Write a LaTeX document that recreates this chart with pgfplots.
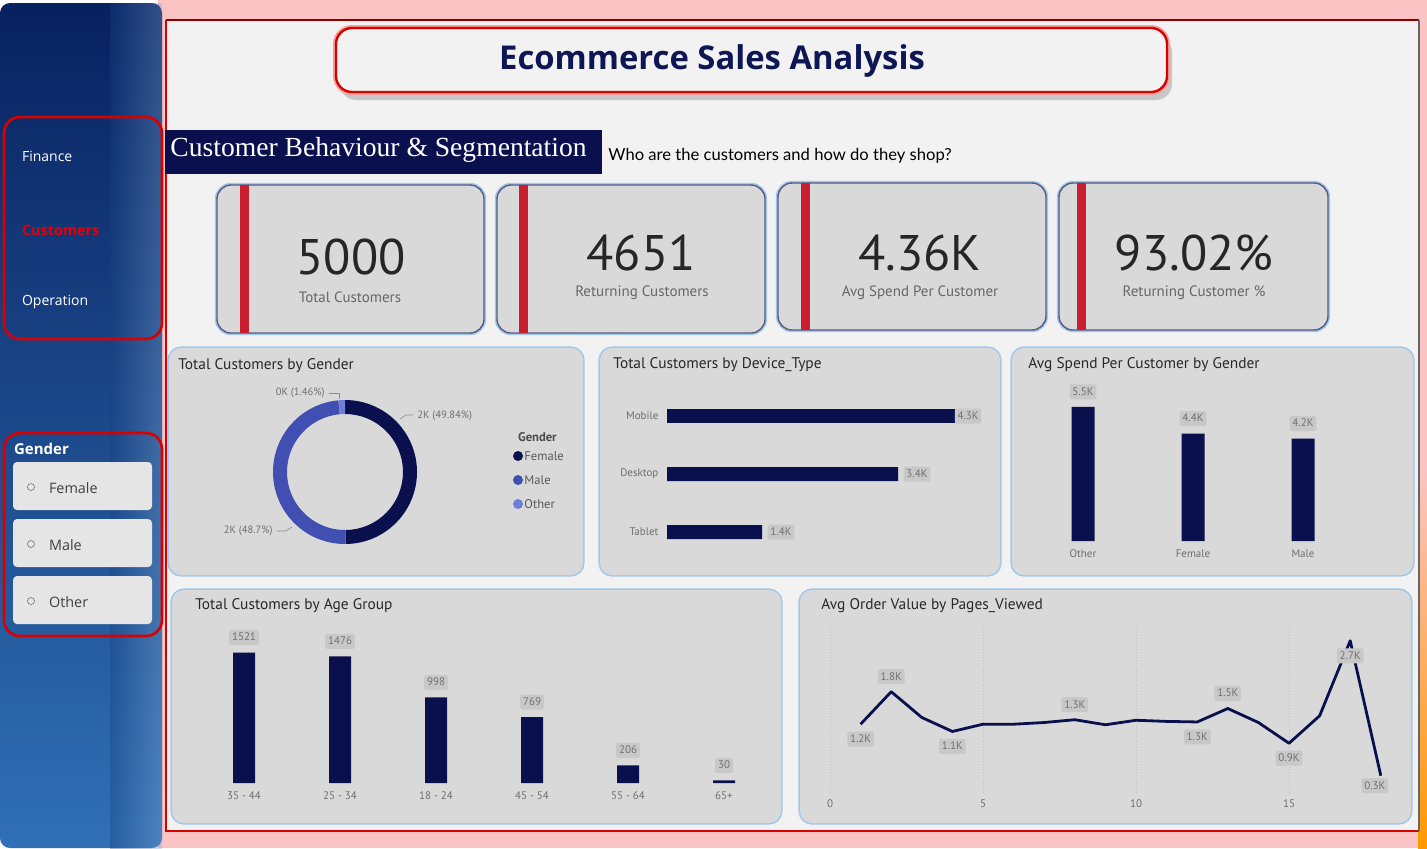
\documentclass[border=0pt]{standalone}
\usepackage{pgfplots}
\pgfplotsset{compat=1.18}
\usepackage{pgfplotstable}
\usepackage{fontspec}
\setmainfont{PT Sans}
\newfontfamily\osans{Open Sans}
\newfontfamily\serifh{Liberation Serif}
\newfontfamily\casual{Lato}

\definecolor{navy}{RGB}{10,16,77}
\definecolor{male}{RGB}{64,79,177}
\definecolor{other}{RGB}{110,126,214}
\definecolor{panel}{RGB}{217,217,217}
\definecolor{bg}{RGB}{242,242,242}
\definecolor{lblbox}{RGB}{200,200,200}
\definecolor{lbltext}{RGB}{112,112,112}
\definecolor{glow}{RGB}{160,200,236}
\definecolor{redbar}{RGB}{200,30,45}
\definecolor{side1}{RGB}{8,33,96}
\definecolor{side2}{RGB}{22,64,128}
\definecolor{side3}{RGB}{48,112,182}
\definecolor{titlenavy}{RGB}{14,22,84}
\definecolor{pinkg}{RGB}{250,196,196}
\definecolor{darkred}{RGB}{140,0,0}
\definecolor{tickgray}{RGB}{110,110,110}
\definecolor{titletext}{RGB}{40,40,40}

\tikzset{lbl/.style={fill=lblbox, rounded corners=1pt, inner sep=1.4pt, text=lbltext,
    font=\fontsize{5.5}{6}\selectfont, text height=4pt, text depth=0.7pt}}
\pgfplotsset{
  /pgf/number format/assume math mode=true,
  dash/.style={clip=false, axis line style={draw=none}, tick style={draw=none},
    ticklabel style={font=\fontsize{5.5}{6}\selectfont, text=tickgray}},
}

\pgfplotstableread{
x y label
0 1521 1521
1 1476 1476
2 998 998
3 769 769
4 206 206
5 30 30
}\agetab

\pgfplotstableread{
x y label
0 5500 5.5K
1 4400 4.4K
2 4200 4.2K
}\spendtab

\pgfplotstableread{
x y label
1400 0 1.4K
3400 1 3.4K
}\devtab
\pgfplotstableread{
x y label
4300 2 4.3K
}\devtabm

\pgfplotstableread{
x y
1 1.22
2 1.80
3 1.34
4 1.09
5 1.22
6 1.22
7 1.25
8 1.30
9 1.21
10 1.29
11 1.27
12 1.26
13 1.50
14 1.25
15 0.88
16 1.37
17 2.71
18 0.30
}\linetab

\pgfplotstableread{
x y label
2 1.80 1.8K
8 1.30 1.3K
13 1.50 1.5K
}\lblabove
\pgfplotstableread{
x y label
1 1.22 1.2K
4 1.09 1.1K
12 1.26 1.3K
15 0.88 0.9K
17 2.71 2.7K
}\lblbelow
\pgfplotstableread{
x y label
18 0.30 0.3K
}\lbllast

\pgfplotstableread{
gender share
Female 49.84
Male 48.7
Other 1.46
}\gendertab

\newcommand\panel[4]{%
  \draw[glow, line width=1.6pt, rounded corners=6] (#1,#2) rectangle (#3,#4);
  \fill[panel, rounded corners=6] (#1,#2) rectangle (#3,#4);}
\newcommand\card[5]{%
  \draw[glow, line width=2.2pt, rounded corners=7] (#1,#2) rectangle (#3,#4);
  \filldraw[fill=panel, draw=black!45!blue!30!gray, line width=0.7pt, rounded corners=7] (#1,#2) rectangle (#3,#4);
  \fill[redbar] (#5,#2) rectangle ({#5+9},#4);}

\begin{document}
\begin{tikzpicture}
\pgfplotstablegetelem{0}{share}\of\gendertab \let\sF\pgfplotsretval
\pgfplotstablegetelem{1}{share}\of\gendertab \let\sM\pgfplotsretval
\pgfplotstablegetelem{2}{share}\of\gendertab \let\sO\pgfplotsretval
\pgfmathsetmacro\aF{90-3.6*\sF}
\pgfmathsetmacro\aM{\aF-3.6*\sM}
\pgfmathsetmacro\aO{\aM-3.6*\sO}
\begin{scope}[x=0.5pt,y=-0.5pt]
\useasboundingbox (0,0) rectangle (1427,848);
\fill[white] (0,0) rectangle (1427,848);
% main area glow
\fill[pinkg] (158,0) rectangle (1427,848);
\shade[top color=pinkg, bottom color=orange!80!yellow] (1418,470) rectangle (1427,848);
\fill[bg] (166,20) rectangle (1419,831);
\draw[darkred, line width=1.2pt] (166,20) -- (1419,20);
\draw[red!85!black, line width=1.3pt] (166,20) -- (166,831) -- (1419,831);
\draw[black!60, line width=0.6pt] (1419,20) -- (1419,831);
% sidebar
\shade[top color=side1, middle color=side2, bottom color=side3, rounded corners=5] (0,3) rectangle (162,848);
\shade[left color=side2, right color=side3!60!white, opacity=0.35] (110,3) rectangle (162,848);
\draw[red!85!black, line width=1.3pt, rounded corners=8] (4,117) rectangle (162,339);
\node[anchor=west, text=white, font=\osans\fontsize{7}{8}\selectfont] at (15,156) {Finance};
\node[anchor=west, text=red!90!black, font=\osans\bfseries\fontsize{7.2}{8}\selectfont] at (15,230) {Customers};
\node[anchor=west, text=white, font=\osans\fontsize{7}{8}\selectfont] at (15,302) {Operation};
\draw[red!85!black, line width=1.3pt, rounded corners=8] (4,433) rectangle (162,636);
\node[anchor=west, text=white, font=\osans\bfseries\fontsize{7.5}{8}\selectfont] at (7,449) {Gender};
\foreach \yy/\tt in {462/Female,519/Male,576/Other}{
  \fill[black!10, rounded corners=2] (13,\yy) rectangle (152,\yy+48);
  \draw[black!55, line width=0.3pt] (31,\yy+25) circle (3.5);
  \node[anchor=west, text=black!75, font=\osans\fontsize{7.2}{8}\selectfont] at (42,\yy+26) {\tt};
}
% title box
\fill[black!22, rounded corners=8] (340,36) rectangle (1172,100);
\draw[pinkg!80!red, line width=3pt, rounded corners=8] (336,28) rectangle (1167,92);
\filldraw[fill=bg, draw=red!85!black, line width=1.2pt, rounded corners=8] (336,28) rectangle (1167,92);
\node[text=titlenavy, font=\osans\bfseries\fontsize{16.4}{18}\selectfont] at (712,61) {Ecommerce Sales Analysis};
% heading
\fill[navy] (165,130) rectangle (602,174);
\node[anchor=west, text=white, font=\serifh\fontsize{13.8}{15}\selectfont, inner sep=0pt] at (170,150) {Customer Behaviour \& Segmentation};
\node[anchor=west, text=black, font=\casual\fontsize{8.3}{9}\selectfont, inner sep=0pt] at (608,156) {Who are the customers and how do they shop?};
% KPI cards
\card{217}{185}{484}{333}{240}
\card{497}{185}{765}{333}{519}
\card{778}{183}{1046}{330}{801}
\card{1059}{183}{1328}{330}{1077}
\node[text=black!85, font=\fontsize{25}{28}\selectfont] at (351,257) {5000};
\node[text=black!60, font=\fontsize{7.5}{9}\selectfont] at (350,297) {Total Customers};
\node[text=black!85, font=\fontsize{25}{28}\selectfont] at (641,253) {4651};
\node[text=black!60, font=\fontsize{7.5}{9}\selectfont] at (642,293) {Returning Customers};
\node[text=black!85, font=\fontsize{25}{28}\selectfont] at (920,253) {4.36K};
\node[text=black!60, font=\fontsize{7.5}{9}\selectfont] at (920,293) {Avg Spend Per Customer};
\node[text=black!85, font=\fontsize{25}{28}\selectfont] at (1194,253) {93.02\%};
\node[text=black!60, font=\fontsize{7.5}{9}\selectfont] at (1194,293) {Returning Customer \%};
% panels
\panel{169}{348}{583}{575}
\panel{600}{348}{1000}{575}
\panel{1012}{348}{1413}{575}
\panel{172}{590}{781}{823}
\panel{800}{590}{1411}{823}
\begin{scope}[every node/.style={anchor=west, text=titletext, font=\fontsize{7.7}{9}\selectfont, inner sep=0pt}]
\node at (178,366) {Total Customers by Gender};
\node at (613,365) {Total Customers by Device\_Type};
\node at (1028,365) {Avg Spend Per Customer by Gender};
\node at (195,606) {Total Customers by Age Group};
\node at (821,606) {Avg Order Value by Pages\_Viewed};
\end{scope}
% donut legend and labels
\node[anchor=west, text=black!70, font=\bfseries\fontsize{6.3}{7}\selectfont] at (511,437) {Gender};
\foreach \yy/\cc/\tt in {456/navy/Female,480/male/Male,504/other/Other}{
  \fill[\cc] (518,\yy) circle (5);
  \node[anchor=west, text=black!65, font=\fontsize{6.3}{7}\selectfont, inner sep=0pt] at (524,\yy) {\tt};
}
\begin{scope}[every node/.style={text=lbltext, font=\fontsize{5.3}{6}\selectfont, inner sep=1pt}]
\node[anchor=east] at (327,393) {0K (1.46\%)};
\draw[black!45, line width=0.3pt] (329,393) -- (339,393) -- (339,399);
\node[anchor=west] at (415,416) {2K (49.84\%)};
\draw[black!45, line width=0.3pt] (400,419) -- (406,415) -- (413,415);
\node[anchor=east] at (275,531) {2K (48.7\%)};
\draw[black!45, line width=0.3pt] (277,531) -- (286,531) -- (292,527);
\end{scope}
\coordinate (oAge) at (244,783);
\coordinate (oDev) at (667,532);
\coordinate (oSpend) at (1083,541);
\coordinate (oLine) at (830,792.5);
\coordinate (cDon) at (345,472);
\end{scope}

% donut
\begin{axis}[at={(cDon)}, anchor=center, hide axis, x=36pt, y=36pt,
  xmin=-1, xmax=1, ymin=-1, ymax=1, clip=false]
\fill[navy] (axis cs:0,0) ++(90:36pt) arc[start angle=90, end angle=\aF, radius=36pt] -- ++(\aF:-7pt) arc[start angle=\aF, end angle=90, radius=29pt] -- cycle;
\fill[male] (axis cs:0,0) ++(\aF:36pt) arc[start angle=\aF, end angle=\aM, radius=36pt] -- ++(\aM:-7pt) arc[start angle=\aM, end angle=\aF, radius=29pt] -- cycle;
\fill[other] (axis cs:0,0) ++(\aM:36pt) arc[start angle=\aM, end angle=\aO, radius=36pt] -- ++(\aO:-7pt) arc[start angle=\aO, end angle=\aM, radius=29pt] -- cycle;
\end{axis}

% device type
\begin{axis}[dash, at={(oDev)}, anchor=origin, x=0.034pt, y=29pt,
  xmin=0, xmax=4700, ymin=-0.5, ymax=2.5, xbar, bar width=7pt, bar shift=0pt,
  xtick=\empty, ytick={0,1,2}, yticklabels={Tablet,Desktop,Mobile},
  yticklabel style={xshift=3.5pt}]
\addplot[fill=navy, draw=none, nodes near coords, point meta=explicit symbolic,
  every node near coord/.append style={lbl, anchor=west, xshift=2.5pt}] table[meta=label] {\devtab};
\addplot[fill=navy, draw=none, nodes near coords, point meta=explicit symbolic,
  every node near coord/.append style={lbl, anchor=west, xshift=-2.5pt}] table[meta=label] {\devtabm};
\end{axis}

% avg spend by gender
\begin{axis}[dash, at={(oSpend)}, anchor=origin, x=55pt, y=0.0122pt,
  xmin=-0.5, xmax=2.5, ymin=0, ymax=6200, ybar, bar width=11.5pt, bar shift=0pt,
  ytick=\empty, xtick={0,1,2}, xticklabels={Other,Female,Male},
  xticklabel style={yshift=3.5pt}]
\addplot[fill=navy, draw=none, nodes near coords, point meta=explicit symbolic,
  every node near coord/.append style={lbl, anchor=center, yshift=7.5pt}] table[meta=label] {\spendtab};
\end{axis}

% age group
\begin{axis}[dash, at={(oAge)}, anchor=origin, x=48pt, y=0.0429pt,
  xmin=-0.5, xmax=5.5, ymin=0, ymax=1650, ybar, bar width=11pt, bar shift=0pt,
  ytick=\empty, xtick={0,...,5}, xticklabels={35 - 44,25 - 34,18 - 24,45 - 54,55 - 64,65+},
  xticklabel style={yshift=3.5pt}]
\addplot[fill=navy, draw=none, nodes near coords, point meta=explicit symbolic,
  every node near coord/.append style={lbl, anchor=center, yshift=7.5pt}] table[meta=label] {\agetab};
\end{axis}

% avg order value by pages viewed
\begin{axis}[dash, at={(oLine)}, anchor=origin, x=15.3pt, y=28pt,
  xmin=-0.3, xmax=18.5, ymin=0, ymax=2.95,
  ytick=\empty, xtick={0,5,10,15}, xmajorgrids, grid style={densely dotted, black!25, line width=0.3pt}]
\addplot[only marks, mark=none, nodes near coords, point meta=explicit symbolic,
  every node near coord/.append style={lbl, anchor=center, yshift=7.5pt}] table[meta=label] {\lblabove};
\addplot[only marks, mark=none, nodes near coords, point meta=explicit symbolic,
  every node near coord/.append style={lbl, anchor=center, yshift=-7.5pt}] table[meta=label] {\lblbelow};
\addplot[only marks, mark=none, nodes near coords, point meta=explicit symbolic,
  every node near coord/.append style={lbl, anchor=center, yshift=-5pt, xshift=-3pt}] table[meta=label] {\lbllast};
\addplot[navy, line width=1.4pt, line join=round, mark=none] table {\linetab};
\end{axis}
\end{tikzpicture}
\end{document}
